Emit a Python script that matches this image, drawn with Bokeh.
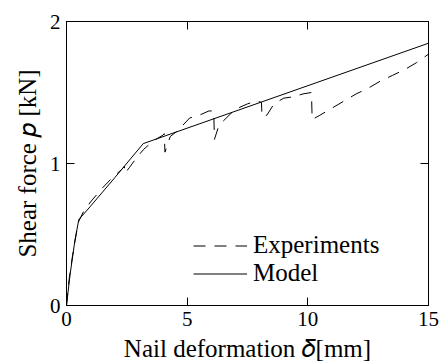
from bokeh.plotting import figure
from bokeh.models import (LinearAxis, FixedTicker, Range1d, Legend, LegendItem)
from bokeh.embed import file_html
from bokeh.resources import INLINE

# Model curve
model_x = [0.0, 0.15, 0.35, 0.51, 1.0, 2.0, 3.18, 15.0]
model_y = [0.0, 0.22, 0.46, 0.605, 0.70, 0.90, 1.14, 1.847]

# Experiments curve
exp_x = [0.0, 0.05, 0.12, 0.25, 0.4, 0.5, 0.7, 1.0, 1.3, 1.5, 1.9, 2.3, 2.4, 2.42, 2.6, 2.9, 3.2,
         3.6, 4.0, 4.05, 4.08, 4.3, 4.6, 5.1, 5.5, 5.9, 6.1, 6.13, 6.3, 6.5, 6.8, 7.1, 7.5, 7.9, 8.08,
         8.1, 8.3, 8.6, 9.0, 9.4, 9.8, 10.15, 10.18, 10.5, 11.0, 11.5, 12.0, 12.5, 13.0, 13.5, 14.0,
         14.5, 15.0]
exp_y = [0.0, 0.1, 0.2, 0.35, 0.5, 0.59, 0.66, 0.73, 0.79, 0.83, 0.9, 0.96, 0.98, 0.93, 0.97, 1.04, 1.1,
         1.16, 1.2, 1.21, 1.08, 1.19, 1.23, 1.32, 1.34, 1.37, 1.37, 1.17, 1.26, 1.3, 1.35, 1.39, 1.42, 1.44, 1.43,
         1.33, 1.34, 1.42, 1.46, 1.47, 1.49, 1.5, 1.31, 1.34, 1.39, 1.44, 1.49, 1.53, 1.58, 1.62, 1.66,
         1.71, 1.77]

x_ticks = [0, 5, 10, 15]
y_ticks = [0, 1, 2]
x_title = "Nail deformation \U0001D6FF[mm]"
y_title = "Shear force \U0001D45D [kN]"

FONT = "Liberation Serif"
TICK_FS = "21px"
TEXT_FS = "25px"

p = figure(width=443, height=364, output_backend="svg", toolbar_location=None,
           x_range=Range1d(0, 15), y_range=Range1d(0, 2),
           min_border_left=66, min_border_right=15, min_border_top=21, min_border_bottom=59,
           x_axis_location=None, y_axis_location=None)
p.background_fill_color = "white"
p.border_fill_color = "white"
p.outline_line_color = "black"
p.outline_line_width = 1
p.xgrid.visible = False
p.ygrid.visible = False


def make_axis(ticks, show_labels, title=None):
    ax = LinearAxis(ticker=FixedTicker(ticks=ticks))
    ax.axis_line_color = "black"
    ax.major_tick_line_color = "black"
    ax.major_tick_in = 8
    ax.major_tick_out = 0
    ax.minor_tick_line_color = None
    ax.major_label_text_font = FONT
    ax.major_label_text_font_size = TICK_FS
    ax.major_label_text_color = "black"
    ax.major_label_standoff = 6
    if title is not None:
        ax.axis_label = title
        ax.axis_label_text_font = FONT
        ax.axis_label_text_font_size = TEXT_FS
        ax.axis_label_text_font_style = "normal"
        ax.axis_label_text_color = "black"
        ax.axis_label_standoff = 6
    if not show_labels:
        ax.major_label_text_alpha = 0
        ax.major_label_text_font_size = "1px"
        ax.major_label_standoff = 0
    return ax

p.add_layout(make_axis(x_ticks, True, x_title), "below")
p.add_layout(make_axis(y_ticks, True, y_title), "left")
p.add_layout(make_axis(x_ticks, False), "above")
p.add_layout(make_axis(y_ticks, False), "right")

r_exp = p.line(exp_x, exp_y, line_color="black", line_width=1, line_dash="12 9")
r_mod = p.line(model_x, model_y, line_color="black", line_width=1)

legend = Legend(items=[LegendItem(label="Experiments", renderers=[r_exp]),
                       LegendItem(label="Model", renderers=[r_mod])],
                location=(127, 18), border_line_color=None, background_fill_alpha=0,
                padding=0, margin=0, spacing=0, label_height=27, glyph_height=27,
                glyph_width=54, label_standoff=6,
                label_text_font=FONT, label_text_font_size=TEXT_FS, label_text_color="black")
p.add_layout(legend, "center")

open("out.html", "w").write(file_html(p, INLINE))
